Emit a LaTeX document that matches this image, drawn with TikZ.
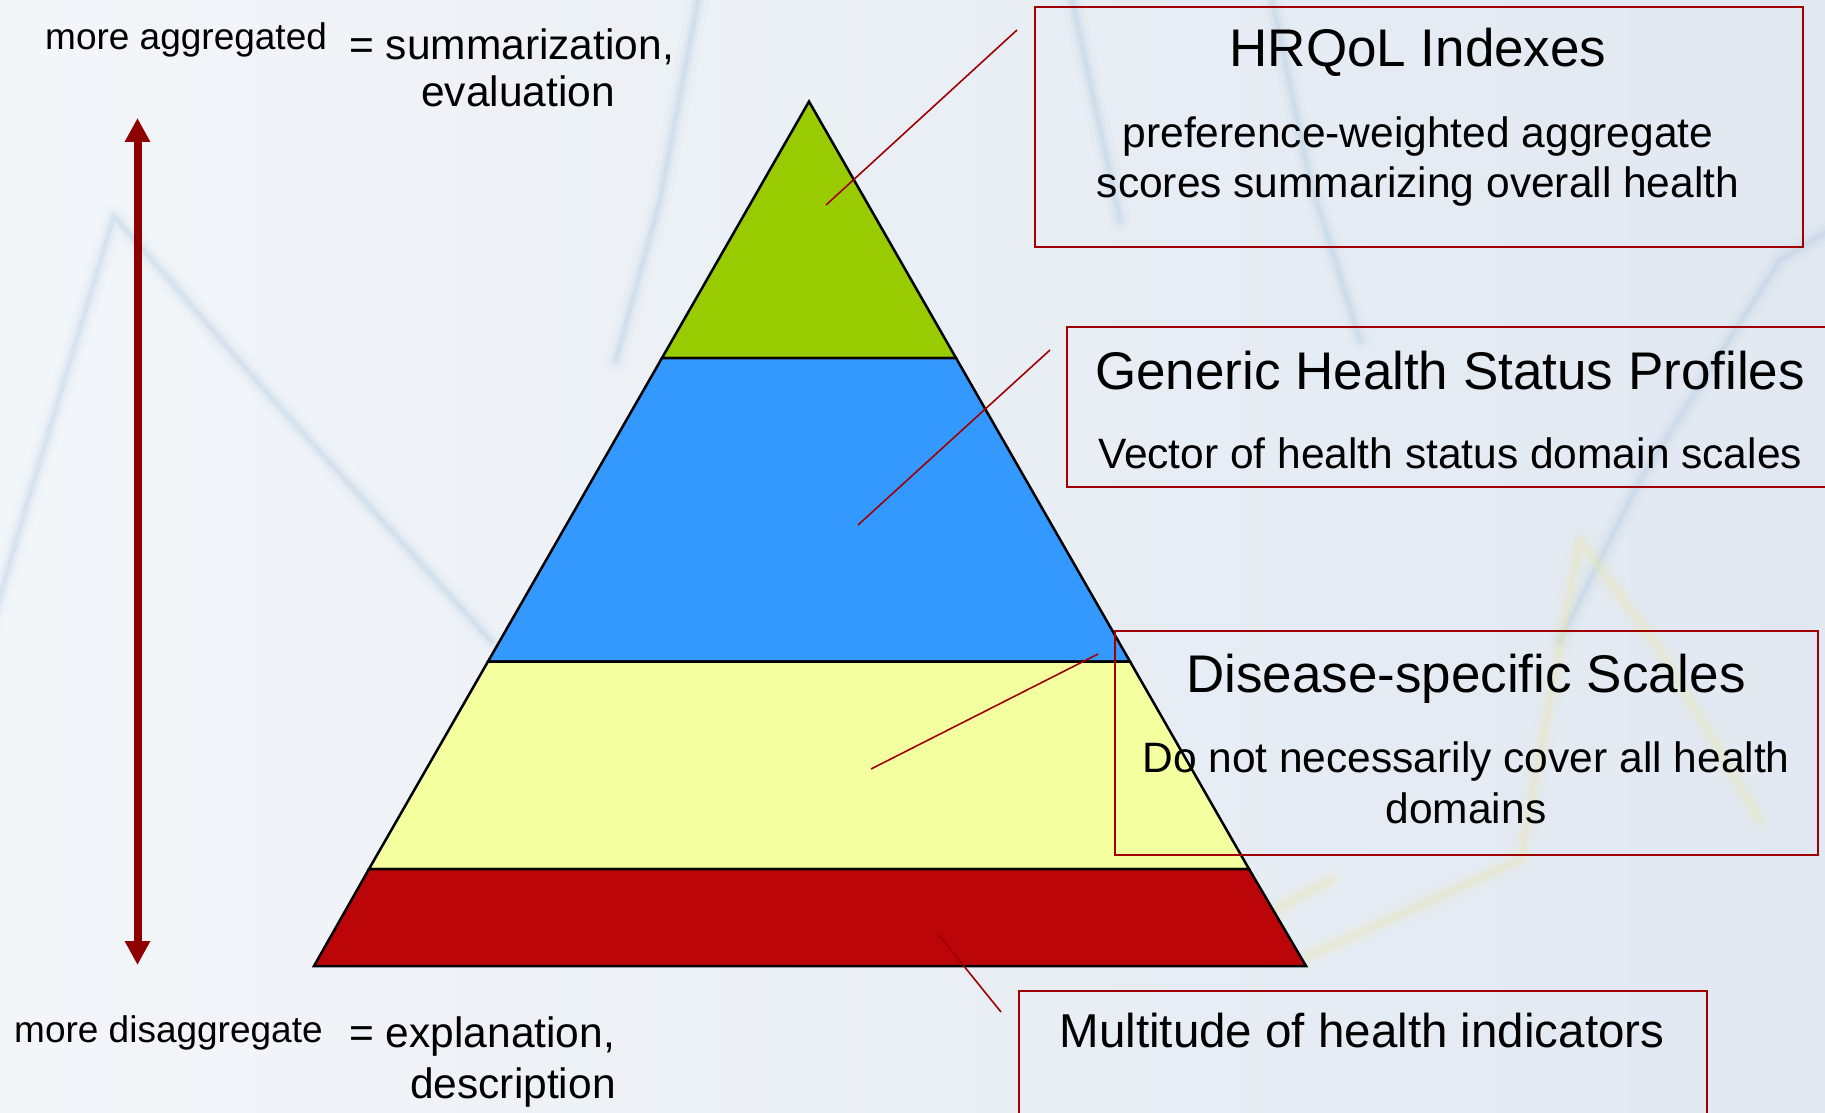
\documentclass[tikz,border=0pt]{standalone}
\usepackage{fontspec}
\setmainfont{Liberation Sans}
\usetikzlibrary{arrows.meta}
\definecolor{bgL}{HTML}{F3F6F9}
\definecolor{bgR}{HTML}{E1E8F1}
\definecolor{faintblue}{HTML}{A9C4DE}
\definecolor{faintyellow}{HTML}{EFE8A0}
\definecolor{lgreen}{HTML}{99CC00}
\definecolor{lblue}{HTML}{3399FF}
\definecolor{lyellow}{HTML}{F4FFA0}
\definecolor{lred}{HTML}{BB0508}
\definecolor{boxred}{HTML}{A00000}
\definecolor{arrred}{HTML}{8E0000}
\begin{document}
\begin{tikzpicture}[x=1pt,y=-1pt,
  layer/.style={draw=black, line width=2.5pt, line join=miter},
  infobox/.style={draw=boxred, line width=2pt, inner sep=0pt, anchor=north west},
  leader/.style={draw=boxred, line width=1.6pt},
  bgline/.style={draw=#1, line width=5pt, draw opacity=0.22, line join=round, line cap=round,
    preaction={draw=#1, line width=12pt, draw opacity=0.12, line join=round, line cap=round},
    preaction={draw=#1, line width=22pt, draw opacity=0.06, line join=round, line cap=round}},
  bgline/.default=faintblue,
  titletext/.style={inner sep=0pt, anchor=base, font=\fontsize{53}{60}\selectfont},
  bodytext/.style={inner sep=0pt, anchor=base, font=\fontsize{42.5}{50}\selectfont},
  sidesmall/.style={inner sep=0pt, anchor=base west, font=\fontsize{37}{44}\selectfont},
  sidebig/.style={inner sep=0pt, anchor=base west, font=\fontsize{42.5}{50}\selectfont},
]
% background
\path[left color=bgL, right color=bgR] (0,0) rectangle (1825,1113);
\useasboundingbox (0,0) rectangle (1825,1113);
\begin{scope}
\clip (0,0) rectangle (1825,1113);
\draw[bgline] (-10,630) -- (27,504) -- (114,216) -- (268,394) -- (491,641);
\draw[bgline] (700,-10) -- (660,200) -- (616,360);
\draw[bgline] (1270,-10) -- (1310,180) -- (1360,340);
\draw[bgline] (1070,-10) -- (1120,220);
\draw[bgline] (1560,640) -- (1640,480) -- (1780,260) -- (1830,230);
\draw[bgline=faintyellow] (1300,960) -- (1520,860) -- (1580,540) -- (1660,650) -- (1760,820);
\draw[bgline=faintyellow] (1240,930) -- (1330,880);
\end{scope}

% pyramid coordinates
\coordinate (apex) at (809,101.5);
\coordinate (gl) at (662,358);   \coordinate (gr) at (956,358);
\coordinate (bl) at (488,661.5); \coordinate (br) at (1130,661.5);
\coordinate (yl) at (369,869);   \coordinate (yr) at (1249,869);
\coordinate (rl) at (314,966);   \coordinate (rr) at (1306,966);

\filldraw[layer, fill=lgreen] (apex) -- (gr) -- (gl) -- cycle;
\filldraw[layer, fill=lblue] (gl) -- (gr) -- (br) -- (bl) -- cycle;
\filldraw[layer, fill=lyellow] (bl) -- (br) -- (yr) -- (yl) -- cycle;
\filldraw[layer, fill=lred] (yl) -- (yr) -- (rr) -- (rl) -- cycle;

% double arrow
\coordinate (arrtop) at (137.5,118);
\coordinate (arrbot) at (137.5,965);
\draw[arrred, line width=8pt, {Triangle[width=24pt,length=24pt]}-{Triangle[width=24pt,length=24pt]}] (arrtop) -- (arrbot);

% leader lines
\coordinate (l1a) at (1017,30);   \coordinate (l1b) at (826,205);
\coordinate (l2a) at (1050,350);  \coordinate (l2b) at (858,525);
\coordinate (l3a) at (1098,654);  \coordinate (l3b) at (871,769);
\coordinate (l4a) at (1001,1012); \coordinate (l4b) at (938,934);
\draw[leader] (l1a) -- (l1b);
\draw[leader] (l2a) -- (l2b);
\draw[leader] (l3a) -- (l3b);
\draw[leader] (l4a) -- (l4b);

% boxes
\node[infobox, minimum width=768pt, minimum height=240pt] (hrqol) at (1034,6) {};
\node[infobox, minimum width=769pt, minimum height=160pt] (generic) at (1066,326) {};
\node[infobox, minimum width=703pt, minimum height=224pt] (disease) at (1114,630) {};
\node[infobox, minimum width=688pt, minimum height=140pt] (multi) at (1018,990) {};

% box texts
\node[titletext] (t1) at (1418,67) {HRQoL Indexes};
\node[bodytext] (b1a) at (1418,147) {preference-weighted aggregate};
\node[bodytext] (b1b) at (1418,197) {scores summarizing overall health};
\node[titletext] (t2) at (1450,389) {Generic Health Status Profiles};
\node[bodytext] (b2) at (1450,468) {Vector of health status domain scales};
\node[titletext] (t3) at (1466,692) {Disease-specific Scales};
\node[bodytext] (b3a) at (1466,772) {Do not necessarily cover all health};
\node[bodytext] (b3b) at (1466,823) {domains};
\node[titletext, font=\fontsize{47.5}{55}\selectfont] (t4) at (1362,1047) {Multitude of health indicators};

% side texts
\node[sidesmall] (ma) at (45,50) {more aggregated};
\node[sidebig] (sum) at (349,60) {= summarization,};
\node[sidebig] (ev) at (421,107) {evaluation};
\node[sidesmall] (md) at (14,1042) {more disaggregate};
\node[sidebig] (ex) at (349,1047) {= explanation,};
\node[sidebig] (de) at (410,1098) {description};
\end{tikzpicture}
\end{document}
